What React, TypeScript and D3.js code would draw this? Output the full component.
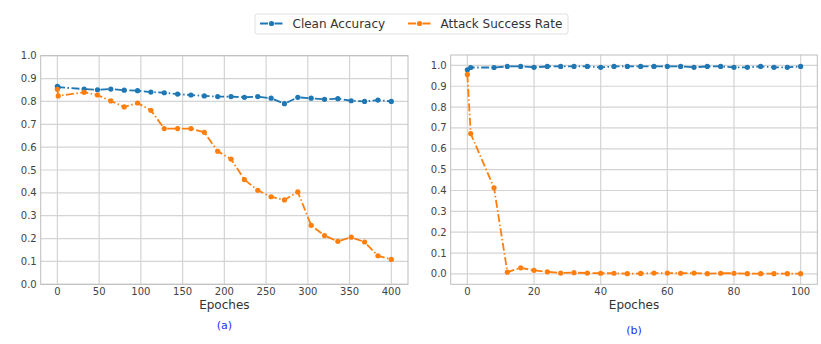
import React from 'react'
import * as d3 from 'd3'

// panel (a)
const epochsA = [0, 1, 32, 48, 64, 80, 96, 112, 128, 144, 160, 176, 192, 208, 224, 240, 256, 272, 288, 304, 320, 336, 352, 368, 384, 400]
const cleanA = [0.866, 0.862, 0.854, 0.851, 0.854, 0.849, 0.847, 0.841, 0.838, 0.832, 0.828, 0.824, 0.821, 0.821, 0.818, 0.821, 0.814, 0.790, 0.818, 0.814, 0.809, 0.812, 0.803, 0.800, 0.806, 0.800]
const attackA = [0.853, 0.824, 0.840, 0.828, 0.802, 0.776, 0.793, 0.761, 0.681, 0.681, 0.681, 0.665, 0.582, 0.548, 0.458, 0.411, 0.383, 0.369, 0.404, 0.258, 0.213, 0.188, 0.206, 0.185, 0.125, 0.109]
const xTicksA = [0, 50, 100, 150, 200, 250, 300, 350, 400]

// panel (b)
const epochsB = [0, 1, 8, 12, 16, 20, 24, 28, 32, 36, 40, 44, 48, 52, 56, 60, 64, 68, 72, 76, 80, 84, 88, 92, 96, 100]
const cleanB = [0.979, 0.990, 0.990, 0.995, 0.995, 0.991, 0.995, 0.995, 0.995, 0.995, 0.991, 0.995, 0.995, 0.995, 0.995, 0.995, 0.995, 0.991, 0.995, 0.995, 0.991, 0.991, 0.995, 0.991, 0.991, 0.995]
const attackB = [0.957, 0.673, 0.413, 0.008, 0.029, 0.017, 0.010, 0.004, 0.006, 0.004, 0.003, 0.003, 0.001, 0.002, 0.004, 0.004, 0.003, 0.004, 0.001, 0.003, 0.003, 0.001, 0.001, 0.001, 0.001, 0.001]
const xTicksB = [0, 20, 40, 60, 80, 100]

const yTicks = [0, 0.1, 0.2, 0.3, 0.4, 0.5, 0.6, 0.7, 0.8, 0.9, 1.0]

const seriesNames = ['Clean Accuracy', 'Attack Success Rate']
const colors = ['#1f77b4', '#ff7f0e']

const font = 'DejaVu Sans, sans-serif'
const dash = '8,2.5,1.5,2.5'

const Panel = ({box, xDomain, yDomain, xTicks, epochs, series, caption, captionY}) => {
  const x = d3.scaleLinear().domain(xDomain).range([box.left, box.right])
  const y = d3.scaleLinear().domain(yDomain).range([box.bottom, box.top])
  const line = d3.line().x(d => x(d[0])).y(d => y(d[1]))

  return (
    <g>
      <rect x={box.left} y={box.top} width={box.right - box.left} height={box.bottom - box.top} fill='white' />
      {yTicks.map(t => (
        <g key={'y' + t}>
          <line x1={box.left} x2={box.right} y1={y(t)} y2={y(t)} stroke='#d4d4d4' strokeWidth={1.2} />
          <text x={box.left - 4} y={y(t)} dy='0.35em' textAnchor='end' fontSize={10} fill='#444' fontFamily={font}>{t.toFixed(1)}</text>
        </g>
      ))}
      {xTicks.map(t => (
        <g key={'x' + t}>
          <line x1={x(t)} x2={x(t)} y1={box.top} y2={box.bottom} stroke='#d4d4d4' strokeWidth={1.2} />
          <text x={x(t)} y={box.bottom + 11} textAnchor='middle' fontSize={10} fill='#444' fontFamily={font}>{t}</text>
        </g>
      ))}
      <rect x={box.left} y={box.top} width={box.right - box.left} height={box.bottom - box.top} fill='none' stroke='#bdbdbd' strokeWidth={1} />
      {series.map((vals, i) => {
        const pts = epochs.map((e, j) => [e, vals[j]])
        return (
          <g key={i}>
            <path d={line(pts)} fill='none' stroke={colors[i]} strokeWidth={1.8} strokeDasharray={dash} />
            {pts.map((p, j) => <circle key={j} cx={x(p[0])} cy={y(p[1])} r={2.6} fill={colors[i]} />)}
          </g>
        )
      })}
      <text x={(box.left + box.right) / 2} y={box.bottom + 25} textAnchor='middle' fontSize={12} fill='#333' fontFamily={font}>Epoches</text>
      <text x={(box.left + box.right) / 2} y={captionY} textAnchor='middle' fontSize={11} fill='#2a2aff' fontFamily={font}>{caption}</text>
    </g>
  )
}

export default function App() {
  return (
    <svg width={821} height={344} style={{position: 'absolute', left: 0, top: 0, background: 'white'}}>
      <Panel box={{left: 40.7, right: 408, top: 55.7, bottom: 284.3}} xDomain={[-20, 420]} yDomain={[0, 1]}
        xTicks={xTicksA} epochs={epochsA} series={[cleanA, attackA]} caption='(a)' captionY={329} />
      <Panel box={{left: 450.7, right: 817.3, top: 55, bottom: 284.3}} xDomain={[-5, 105]} yDomain={[-0.05, 1.05]}
        xTicks={xTicksB} epochs={epochsB} series={[cleanB, attackB]} caption='(b)' captionY={334} />
      <g>
        <rect x={255} y={14} width={313} height={20} rx={2} fill='white' stroke='#e0e0e0' />
        {seriesNames.map((name, i) => {
          const lx = i === 0 ? 260 : 408
          return (
            <g key={name}>
              <line x1={lx} x2={lx + 23} y1={23.5} y2={23.5} stroke={colors[i]} strokeWidth={1.8} strokeDasharray={dash} />
              <circle cx={lx + 11.5} cy={23.5} r={2.6} fill={colors[i]} />
              <text x={lx + 32.5} y={23.5} dy='0.35em' fontSize={12} fill='#333' fontFamily={font}>{name}</text>
            </g>
          )
        })}
      </g>
    </svg>
  )
}
